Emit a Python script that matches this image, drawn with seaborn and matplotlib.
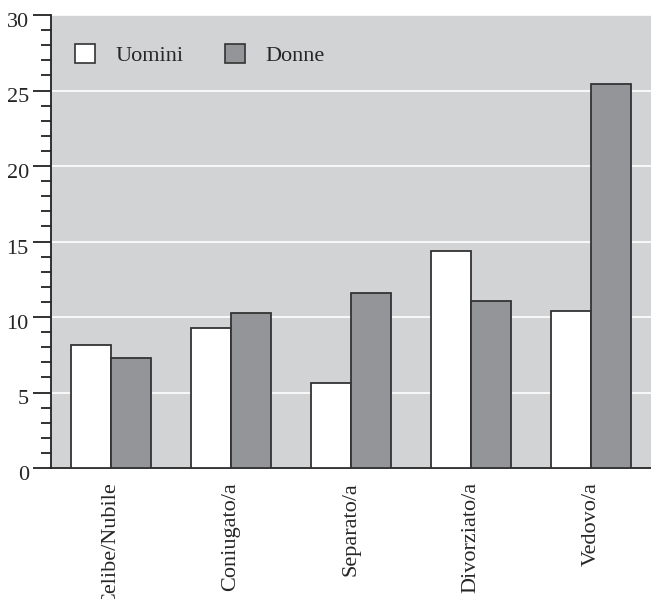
import matplotlib
matplotlib.use("Agg")
import matplotlib.pyplot as plt
import matplotlib.transforms as mtransforms
import seaborn as sns
import pandas as pd
from matplotlib.ticker import MultipleLocator
from matplotlib.patches import Patch

categories = ["Celibe/Nubile", "Coniugato/a", "Separato/a", "Divorziato/a", "Vedovo/a"]
uomini = [8.15, 9.3, 5.6, 14.4, 10.4]
donne = [7.3, 10.25, 11.6, 11.05, 25.45]
series = ["Uomini", "Donne"]

df = pd.DataFrame({
    "cat": categories * 2,
    "val": uomini + donne,
    "sex": [series[0]] * len(categories) + [series[1]] * len(categories),
})

sns.set_style("white")
plt.rcParams["font.family"] = ["Liberation Serif", "DejaVu Serif"]

fig = plt.figure(figsize=(6.51, 5.99), dpi=100)
ax = fig.add_axes([51 / 651, (599 - 468) / 599, 600 / 651, (468 - 15) / 599])
ax.set_facecolor("#d2d3d5")

palette = {"Uomini": "#ffffff", "Donne": "#939598"}
sns.barplot(data=df, x="cat", y="val", hue="sex", order=categories,
            hue_order=series, palette=palette, width=0.67, ax=ax,
            edgecolor="#333333", linewidth=1.3, saturation=1, zorder=3,
            legend=False)

ax.set_xlim(-0.5, 4.5)
ax.set_ylim(0, 30)
ax.yaxis.set_major_locator(MultipleLocator(5))
ax.yaxis.set_minor_locator(MultipleLocator(1))
ax.grid(axis="y", which="major", color="white", linewidth=1.2, zorder=0)
ax.set_axisbelow(True)
ax.set_xlabel("")
ax.set_ylabel("")

for s in ["top", "right"]:
    ax.spines[s].set_visible(False)
for s in ["left", "bottom"]:
    ax.spines[s].set_color("#222222")
    ax.spines[s].set_linewidth(1.3)

ax.tick_params(axis="y", which="major", direction="out", length=13, width=1.3,
               color="#222222", labelsize=16, pad=3, left=True)
ax.tick_params(axis="y", which="minor", direction="out", length=7, width=1.3,
               color="#222222", left=True)
ax.tick_params(axis="x", length=0, labelsize=16, pad=10)
plt.setp(ax.get_xticklabels(), rotation=90, va="top", ha="center")

# the reference's y labels sit slightly below their ticks
offset = mtransforms.ScaledTranslation(0, -5 / 100, fig.dpi_scale_trans)
for lbl in ax.get_yticklabels():
    lbl.set_transform(lbl.get_transform() + offset)

handles = [Patch(facecolor=palette[s], edgecolor="#333333", linewidth=1.2) for s in series]
ax.legend(handles, series, loc="upper left", bbox_to_anchor=(24 / 600, (468 - 44) / 453),
          ncol=2, frameon=False, fontsize=16, handlelength=0.92, handleheight=0.95,
          handletextpad=0.9, columnspacing=1.85, borderaxespad=0, borderpad=0)

fig.savefig("out.png", dpi=100)
